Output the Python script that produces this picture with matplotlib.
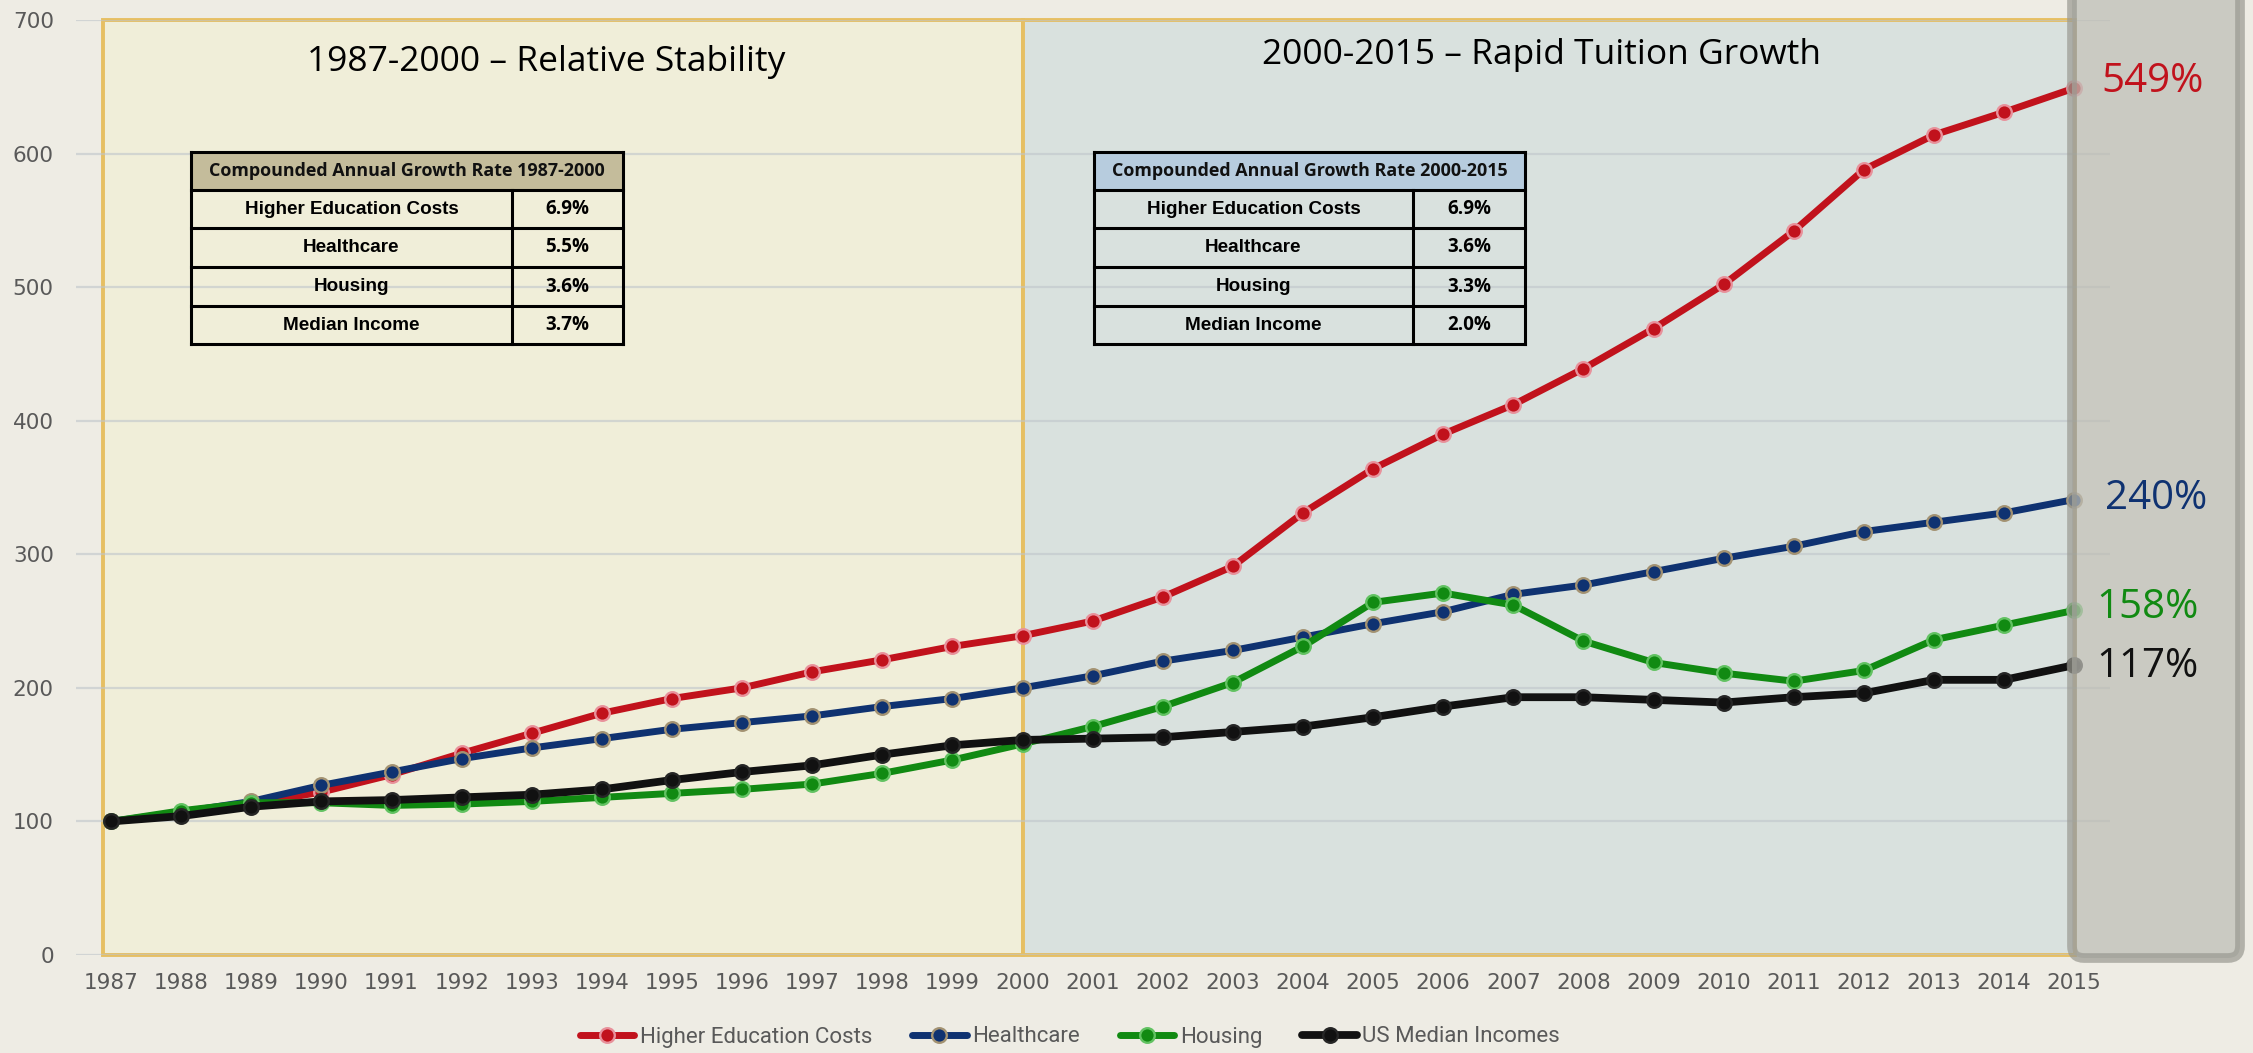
import matplotlib
matplotlib.use('Agg')
import matplotlib.pyplot as plt
from matplotlib.patches import Rectangle, FancyBboxPatch
from matplotlib.lines import Line2D
from matplotlib.transforms import IdentityTransform
from matplotlib import font_manager as fm

# ---------------- data ----------------
years = list(range(1987, 2016))
higher_education = [100, 105, 113, 122, 135, 151, 166, 181, 192, 200, 212, 221, 231, 239,
                    250, 268, 291, 331, 364, 390, 412, 439, 469, 502, 542, 588, 614, 631, 649]
healthcare = [100, 107, 115, 127, 137, 147, 155, 162, 169, 174, 179, 186, 192, 200,
              209, 220, 228, 238, 248, 257, 270, 277, 287, 297, 306, 317, 324, 331, 341]
housing = [100, 108, 114, 114, 112, 113, 115, 118, 121, 124, 128, 136, 146, 158,
           171, 186, 204, 231, 264, 271, 262, 235, 219, 211, 205, 213, 236, 247, 258]
median_income = [100, 104, 111, 115, 116, 118, 120, 124, 131, 137, 142, 150, 157, 161,
                 162, 163, 167, 171, 178, 186, 193, 193, 191, 189, 193, 196, 206, 206, 217]

series_names = ['Higher Education Costs', 'Healthcare', 'Housing', 'US Median Incomes']
end_labels = ['549%', '240%', '158%', '117%']
period_titles = ['1987-2000 \u2013 Relative Stability', '2000-2015 \u2013 Rapid Tuition Growth']
table_titles = ['Compounded Annual Growth Rate 1987-2000', 'Compounded Annual Growth Rate 2000-2015']
table_rows = ['Higher Education Costs', 'Healthcare', 'Housing', 'Median Income']
cagr_1987_2000 = ['6.9%', '5.5%', '3.6%', '3.7%']
cagr_2000_2015 = ['6.9%', '3.6%', '3.3%', '2.0%']
y_ticks = [0, 100, 200, 300, 400, 500, 600, 700]
period_bounds = [1986.89, 2000, 2015.01]

# ---------------- styling ----------------
W, H, DPI = 2253, 1053, 100
available = {f.name for f in fm.fontManager.ttflist}
def pick(*names):
    for n in names:
        if n in available:
            return n
    return 'DejaVu Sans'
title_font = pick('Open Sans', 'Noto Sans', 'DejaVu Sans')
legend_font = pick('Roboto', 'Liberation Sans', 'DejaVu Sans')
table_label_font = pick('Liberation Sans', 'DejaVu Sans')
table_bold_font = pick('Open Sans', 'Noto Sans', 'DejaVu Sans')

line_colors = ['#C1121C', '#0F3271', '#118A12', '#111111']
edge_colors = ['#E8919B', '#A39272', '#62C262', '#262626']
line_widths = [5.0, 5.0, 5.0, 5.6]
bg = '#EEECE4'

def fx(px):
    return px / W

def fy(py):
    return 1 - py / H

fig = plt.figure(figsize=(W / DPI, H / DPI), dpi=DPI, facecolor=bg)
ax = fig.add_axes([fx(76), fy(955), fx(2110) - fx(76), fy(20) - fy(955)])
ax.set_facecolor('none')
ax.set_xlim(1986.5, 2015.51)
ax.set_ylim(0, 700)

# period regions
region_faces = ['#F0EED9', '#D9E1DE']
for i, fc in enumerate(region_faces):
    ax.add_patch(Rectangle((period_bounds[i], 0), period_bounds[i + 1] - period_bounds[i], 700,
                           facecolor=fc, edgecolor='#E6BF63', lw=2.8, zorder=0.2, clip_on=False))

ax.set_yticks(y_ticks)
ax.set_xticks(years)
ax.grid(axis='y', color='#BFC5CA', lw=1.6, alpha=0.6)
ax.grid(axis='x', visible=False)
ax.set_axisbelow(True)
for s in ax.spines.values():
    s.set_visible(False)
ax.tick_params(axis='both', length=0, labelsize=15.5, labelcolor='#595959')
ax.tick_params(axis='y', pad=16)
ax.tick_params(axis='x', pad=13)

all_series = [higher_education, healthcare, housing, median_income]
handles = []
for vals, c, ec, lw, name in zip(all_series, line_colors, edge_colors, line_widths, series_names):
    h, = ax.plot(years, vals, color=c, lw=lw, marker='o', ms=10.5, mfc=c, mec=ec, mew=1.7,
                 label=name, zorder=3, solid_capstyle='round', clip_on=False)
    handles.append(h)

# period titles
fig.text(fx(546), fy(62), period_titles[0], ha='center', va='center', fontsize=25.5,
         family=title_font, color='black')
fig.text(fx(1541), fy(55), period_titles[1], ha='center', va='center', fontsize=25.5,
         family=title_font, color='black')

# tables
def draw_table(left, right, coldiv, rows_y, header_color, title, labels, values):
    top, hb, bottom = rows_y[0], rows_y[1], rows_y[-1]
    fig.add_artist(Rectangle((fx(left), fy(hb)), fx(right) - fx(left), fy(top) - fy(hb),
                             transform=fig.transFigure, facecolor=header_color,
                             edgecolor='none', zorder=4))
    lw = 2.2
    for yy in rows_y:
        fig.add_artist(Line2D([fx(left), fx(right)], [fy(yy), fy(yy)], transform=fig.transFigure,
                              color='black', lw=lw, zorder=5, solid_capstyle='projecting'))
    for xx in (left, right):
        fig.add_artist(Line2D([fx(xx), fx(xx)], [fy(top), fy(bottom)], transform=fig.transFigure,
                              color='black', lw=lw, zorder=5, solid_capstyle='projecting'))
    fig.add_artist(Line2D([fx(coldiv), fx(coldiv)], [fy(hb), fy(bottom)], transform=fig.transFigure,
                          color='black', lw=lw, zorder=5))
    fig.text(fx((left + right) / 2), fy((top + hb) / 2), title, ha='center', va='center',
             fontsize=12.9, fontweight='bold', family=table_bold_font, color='#111111', zorder=6)
    for i, (lab, val) in enumerate(zip(labels, values)):
        ymid = (rows_y[i + 1] + rows_y[i + 2]) / 2
        fig.text(fx((left + coldiv) / 2), fy(ymid), lab, ha='center', va='center',
                 fontsize=13.6, fontweight='bold', family=table_label_font, color='black', zorder=6)
        fig.text(fx((coldiv + right) / 2), fy(ymid), val, ha='center', va='center',
                 fontsize=13.5, fontweight='bold', family=table_bold_font, color='black', zorder=6)

rows_px = [152, 190, 228, 267, 306, 344]
draw_table(191, 623, 512, rows_px, '#C4BC9B', table_titles[0], table_rows, cagr_1987_2000)
draw_table(1094, 1525, 1413, rows_px, '#B7CCDE', table_titles[1], table_rows, cagr_2000_2015)

# grey highlight box on the right
box = FancyBboxPatch((2072, H - 958), 2240 - 2072, 1100,
                     boxstyle='round,pad=0,rounding_size=12', transform=IdentityTransform(),
                     facecolor=(0.74, 0.74, 0.71, 0.72), edgecolor=(0.6, 0.6, 0.57, 0.7),
                     lw=7, zorder=7)
fig.add_artist(box)

# end labels
label_pos = [(2101, 82), (2105, 499), (2096, 608), (2096, 667)]
for (px, py), txt, c in zip(label_pos, end_labels, line_colors):
    fig.text(fx(px), fy(py), txt, ha='left', va='center', fontsize=29, family=title_font,
             color=c, zorder=8)

# legend
leg = fig.legend(handles, series_names, loc='center', bbox_to_anchor=(fx(1070), fy(1037)),
                 ncol=4, frameon=False, prop={'family': legend_font, 'size': 16},
                 labelcolor='#595959', handlelength=2.45, handletextpad=0.25,
                 columnspacing=1.8, borderaxespad=0, borderpad=0)

fig.savefig('out.png', dpi=DPI, facecolor=bg)
